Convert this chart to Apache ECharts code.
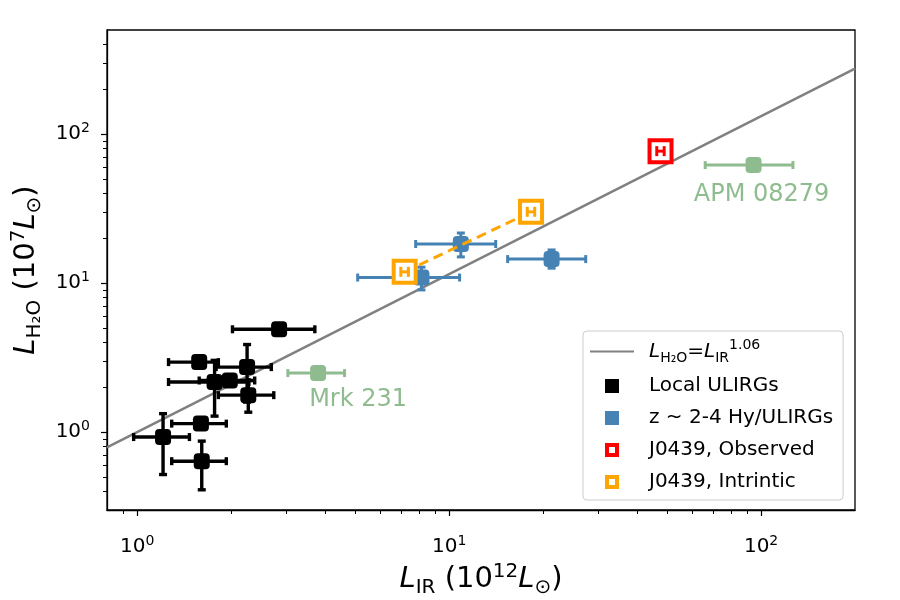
<!DOCTYPE html>
<html>
<head>
<meta charset="UTF-8">
<title>L_H2O vs L_IR</title>
<script src="https://cdn.jsdelivr.net/npm/echarts@6/dist/echarts.min.js"></script>
<style>
    html, body { margin: 0; padding: 0; background: #fff; }
    #chart { width: 900px; height: 600px; }
</style>
</head>
<body>
<div id="chart"></div>
<script>
// axis limits and ticks (linear units, plotted on log10 scale)
var xLim = [0.8, 200];
var yLim = [0.3, 500];
var majorTicks = [1, 10, 100];
var xMinorTicks = [0.9, 2, 3, 4, 5, 6, 7, 8, 9, 20, 30, 40, 50, 60, 70, 80, 90];
var yMinorTicks = [0.4, 0.5, 0.6, 0.7, 0.8, 0.9, 2, 3, 4, 5, 6, 7, 8, 9,
                   20, 30, 40, 50, 60, 70, 80, 90, 200, 300, 400];

// rows: [L_IR, L_H2O, xLow, xHigh, yLow, yHigh]
var localUlirgs = [
    [2.85, 4.90, 2.02, 3.71, 4.90, 4.90],
    [1.58, 2.95, 1.26, 1.82, 2.95, 2.95],
    [2.25, 2.73, 1.79, 2.69, 1.59, 3.87],
    [1.77, 2.17, 1.26, 2.28, 1.28, 3.03],
    [1.98, 2.22, 1.58, 2.38, 2.22, 2.22],
    [2.27, 1.77, 1.82, 2.74, 1.36, 2.22],
    [1.21, 0.926, 0.974, 1.47, 0.519, 1.33],
    [1.60, 1.14, 1.29, 1.93, 1.14, 1.14],
    [1.61, 0.638, 1.29, 1.93, 0.41, 0.87]
];
var hyUlirgs = [
    [10.9, 18.3, 7.81, 14.1, 15.0, 21.7],
    [21.3, 14.5, 15.4, 27.4, 12.6, 16.7],
    [8.15, 10.9, 5.09, 10.8, 9.0, 12.8]
];
var mrk231 = [[3.80, 2.49, 3.04, 4.62, 2.49, 2.49]];
var apm08279 = [[94.6, 62.0, 66.2, 126.5, 62.0, 62.0]];
var j0439Obs = [[47.6, 76.9, 46.3, 48.9, 76.9, 76.9]];
var j0439Int = [
    [7.20, 11.9, 7.0, 7.4, 11.9, 11.9],
    [18.3, 30.1, 17.8, 18.8, 30.1, 30.1]
];
// L_H2O = L_IR^1.06 end points
var fitX = [0.8, 200];
var fitY = [0.789, 274.8];

var FONT = 'DejaVu Sans';
var lg = Math.log10;

function logRows(rows) {
    return rows.map(function (r) { return r.map(lg); });
}
function points(rows) {
    return rows.map(function (r) { return [lg(r[0]), lg(r[1])]; });
}

// error bars drawn through the axes scales
function errorBars(rows, color, width, cap, z) {
    return {
        type: 'custom',
        z: z,
        silent: true,
        data: logRows(rows),
        encode: { x: 0, y: 1 },
        renderItem: function (params, api) {
            var p = api.coord([api.value(0), api.value(1)]);
            var l = api.coord([api.value(2), api.value(1)]);
            var r = api.coord([api.value(3), api.value(1)]);
            var b = api.coord([api.value(0), api.value(4)]);
            var t = api.coord([api.value(0), api.value(5)]);
            var st = { stroke: color, lineWidth: width };
            var kids = [];
            function seg(x1, y1, x2, y2) {
                kids.push({ type: 'line', shape: { x1: x1, y1: y1, x2: x2, y2: y2 }, style: st });
            }
            if (r[0] - l[0] > 1) {
                seg(l[0], p[1], r[0], p[1]);
                seg(l[0], p[1] - cap, l[0], p[1] + cap);
                seg(r[0], p[1] - cap, r[0], p[1] + cap);
            }
            if (b[1] - t[1] > 1) {
                seg(p[0], b[1], p[0], t[1]);
                seg(p[0] - cap, b[1], p[0] + cap, b[1]);
                seg(p[0] - cap, t[1], p[0] + cap, t[1]);
            }
            return { type: 'group', children: kids };
        }
    };
}

var tickRich = {
    b: { fontFamily: FONT, fontSize: 20, color: '#000', lineHeight: 26, verticalAlign: 'middle' },
    s: { fontFamily: FONT, fontSize: 14, color: '#000', lineHeight: 14, verticalAlign: 'top' }
};
var nameRich = {
    i: { fontFamily: FONT, fontSize: 29, fontStyle: 'italic', color: '#000', lineHeight: 36 },
    n: { fontFamily: FONT, fontSize: 29, color: '#000', lineHeight: 36 },
    sub: { fontFamily: FONT, fontSize: 20, color: '#000', lineHeight: 21, verticalAlign: 'bottom' },
    sup: { fontFamily: FONT, fontSize: 20, color: '#000', lineHeight: 17, verticalAlign: 'top' }
};
function tickFmt(v) {
    return '{b|10}{s|' + Math.round(v) + '}';
}

function majorAxis(lim, name, gap, margin, extra) {
    var ax = {
        type: 'value',
        min: lg(lim[0]),
        max: lg(lim[1]),
        splitLine: { show: false },
        axisLine: { show: true, onZero: false, lineStyle: { color: '#000', width: 1.3 } },
        axisTick: { show: true, length: 6, lineStyle: { color: '#000', width: 1.2 },
                    customValues: majorTicks.map(lg) },
        axisLabel: { customValues: majorTicks.map(lg), formatter: tickFmt, rich: tickRich, margin: margin },
        name: name,
        nameLocation: 'middle',
        nameGap: gap,
        nameTextStyle: { rich: nameRich }
    };
    for (var k in extra) ax[k] = extra[k];
    return ax;
}
function minorAxis(lim, ticks, pos) {
    return {
        type: 'value',
        position: pos,
        min: lg(lim[0]),
        max: lg(lim[1]),
        splitLine: { show: false },
        axisLine: { show: false, onZero: false },
        axisLabel: { show: false },
        axisTick: { show: true, length: 4, lineStyle: { color: '#000', width: 1 },
                    customValues: ticks.map(lg) }
    };
}

var chart = echarts.init(document.getElementById('chart'));

var option = {
    animation: false,
    grid: {
        left: 107, right: 45, top: 30, bottom: 90,
        outerBoundsMode: 'none',
        show: true, borderColor: '#000', borderWidth: 1.3, backgroundColor: 'transparent'
    },
    xAxis: [
        majorAxis(xLim, '{i|L}{sub|IR}{n| (10}{sup|12}{i|L}{sub|⊙}{n|)}', 46, 24, { position: 'bottom' }),
        minorAxis(xLim, xMinorTicks, 'bottom')
    ],
    yAxis: [
        majorAxis(yLim, '{i|L}{sub|H₂O}{n| (10}{sup|7}{i|L}{sub|⊙}{n|)}', 59, 17, { position: 'left', nameRotate: 90 }),
        minorAxis(yLim, yMinorTicks, 'left')
    ],
    legend: {
        left: 583, top: 331,
        orient: 'vertical',
        selectedMode: false,
        backgroundColor: 'rgba(255,255,255,0.8)',
        borderColor: '#cccccc', borderWidth: 1, borderRadius: 4,
        padding: [7, 10, 7, 6],
        itemWidth: 44, itemHeight: 14, itemGap: 10,
        textStyle: {
            fontFamily: FONT, fontSize: 20, color: '#000', lineHeight: 22,
            padding: [0, 0, 0, 10],
            rich: {
                i: { fontFamily: FONT, fontSize: 20, fontStyle: 'italic', color: '#000', lineHeight: 27 },
                n: { fontFamily: FONT, fontSize: 20, color: '#000', lineHeight: 27 },
                sub: { fontFamily: FONT, fontSize: 14, color: '#000', lineHeight: 16, verticalAlign: 'bottom' },
                sup: { fontFamily: FONT, fontSize: 14, color: '#000', lineHeight: 14, verticalAlign: 'top' }
            }
        },
        formatter: function (name) {
            if (name === 'fit') return '{i|L}{sub|H₂O}{n|=}{i|L}{sub|IR}{sup|1.06}';
            return name;
        },
        data: [
            { name: 'fit', itemStyle: { color: 'rgba(0,0,0,0)', borderWidth: 0 } },
            { name: 'Local ULIRGs', icon: 'path://M0,0H14V14H0Z', itemStyle: { color: '#000', borderWidth: 0 } },
            { name: 'z ~ 2-4 Hy/ULIRGs', icon: 'path://M0,0H14V14H0Z', itemStyle: { color: '#4682b4', borderWidth: 0 } },
            { name: 'J0439, Observed', icon: 'path://M0,0H14V14H0ZM4,4V10H10V4Z', itemStyle: { color: '#ff0000', borderWidth: 0 } },
            { name: 'J0439, Intrintic', icon: 'path://M0,0H14V14H0ZM4,4V10H10V4Z', itemStyle: { color: '#ffa500', borderWidth: 0 } }
        ]
    },
    series: [
        {
            name: 'fit', type: 'line', z: 1, silent: true,
            xAxisIndex: 0, yAxisIndex: 0,
            symbol: 'none',
            itemStyle: { color: '#808080' },
            lineStyle: { color: '#808080', width: 2.5 },
            data: fitX.map(function (x, i) { return [lg(x), lg(fitY[i])]; })
        },
        errorBars(localUlirgs, '#000', 3.4, 4, 2),
        errorBars(hyUlirgs, '#4682b4', 3, 4, 2),
        errorBars(mrk231, '#8fbc8f', 3, 4, 2),
        errorBars(apm08279, '#8fbc8f', 3, 4, 2),
        {
            name: 'Local ULIRGs', type: 'scatter', z: 3, silent: true,
            symbol: 'roundRect', symbolSize: 16,
            itemStyle: { color: '#000', opacity: 1 },
            data: points(localUlirgs)
        },
        {
            name: 'z ~ 2-4 Hy/ULIRGs', type: 'scatter', z: 3, silent: true,
            symbol: 'roundRect', symbolSize: 16,
            itemStyle: { color: '#4682b4', opacity: 1 },
            data: points(hyUlirgs)
        },
        {
            name: 'Mrk 231', type: 'scatter', z: 3, silent: true,
            symbol: 'roundRect', symbolSize: 16,
            itemStyle: { color: '#8fbc8f', opacity: 1 },
            label: { show: true, position: 'inside', offset: [40, 27], formatter: 'Mrk 231',
                     fontFamily: FONT, fontSize: 24, color: '#8fbc8f' },
            data: points(mrk231)
        },
        {
            name: 'APM 08279', type: 'scatter', z: 3, silent: true,
            symbol: 'roundRect', symbolSize: 16,
            itemStyle: { color: '#8fbc8f', opacity: 1 },
            label: { show: true, position: 'inside', offset: [8, 30], formatter: 'APM 08279',
                     fontFamily: FONT, fontSize: 24, color: '#8fbc8f' },
            data: points(apm08279)
        },
        {
            name: 'J0439 link', type: 'line', z: 4, silent: true,
            symbol: 'none',
            lineStyle: { color: '#ffa500', width: 3, type: [10, 6] },
            data: points(j0439Int)
        },
        {
            name: 'J0439, Observed', type: 'scatter', z: 5, silent: true,
            symbol: 'rect', symbolSize: 22,
            itemStyle: { color: '#fff', borderColor: '#ff0000', borderWidth: 4, opacity: 1 },
            data: points(j0439Obs)
        },
        {
            name: 'J0439, Intrintic', type: 'scatter', z: 5, silent: true,
            symbol: 'rect', symbolSize: 22,
            itemStyle: { color: '#fff', borderColor: '#ffa500', borderWidth: 4, opacity: 1 },
            data: points(j0439Int)
        },
        errorBars(j0439Obs, '#ff0000', 3, 5, 6),
        errorBars(j0439Int, '#ffa500', 3, 5, 6)
    ]
};
chart.setOption(option);
</script>
</body>
</html>
